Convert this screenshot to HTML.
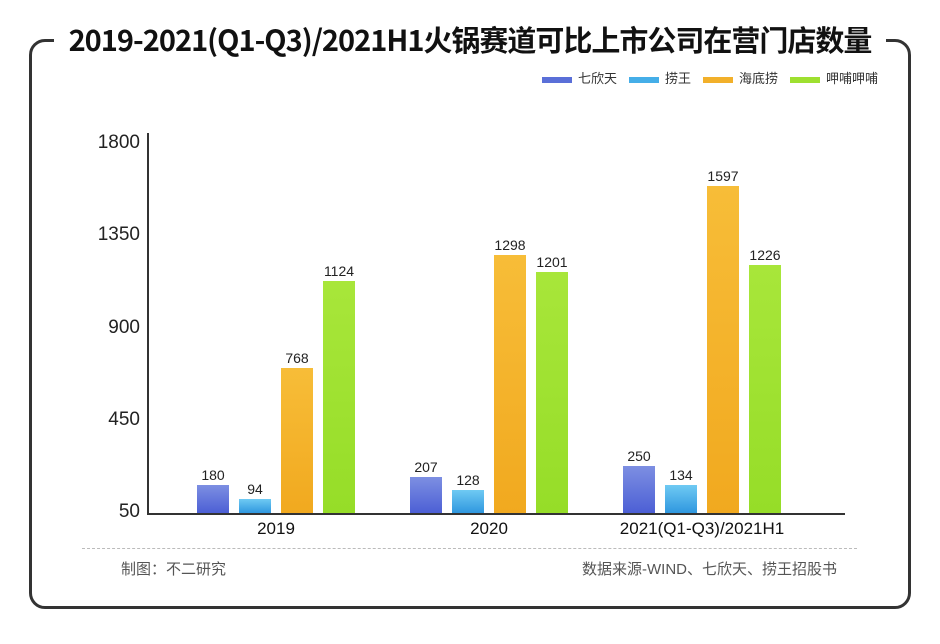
<!DOCTYPE html>
<html><head><meta charset="utf-8"><style>
body{margin:0;width:940px;height:644px;background:#fff;position:relative;overflow:hidden;font-family:"Liberation Sans","Noto Sans CJK SC",sans-serif;}
.abs{position:absolute}
.bar{position:absolute;width:32px}
.b1{background:linear-gradient(#7d8fe2,#4c5fd5)}
.b2{background:linear-gradient(#6fcaf3,#2f97df)}
.b3{background:linear-gradient(#f7bd38,#f1a91f)}
.b4{background:linear-gradient(#a8e63a,#96dd28)}
.val{position:absolute;width:50px;text-align:center;font-size:14px;color:#222}
.yl{position:absolute;right:800px;font-size:19px;color:#222}
.xl{position:absolute;font-size:17px;color:#111;text-align:center;width:300px}
.lg{display:inline-block;width:30px;height:6px;margin:0 6px 0 12px;vertical-align:middle}
</style></head><body>
<div class="abs" style="left:29px;top:39px;width:876px;height:564px;border:3px solid #333;border-radius:16px"></div>
<div class="abs" style="left:54px;top:20px;width:832px;height:40px;background:#fff"></div>
<div class="abs" style="left:54px;top:18px;width:832px;text-align:center;font-size:29px;font-weight:bold;color:#111;font-family:'Noto Sans CJK SC',sans-serif;letter-spacing:-1px">2019-2021(Q1-Q3)/2021H1火锅赛道可比上市公司在营门店数量</div>
<div class="abs" style="right:62px;top:68px;font-size:13px;color:#333">
<span class="lg" style="background:#5a6fd8"></span>七欣天<span class="lg" style="background:#45aee8"></span>捞王<span class="lg" style="background:#f2b02a"></span>海底捞<span class="lg" style="background:#9ee030"></span>呷哺呷哺</div>
<div class="abs" style="left:147px;top:133px;width:2px;height:382px;background:#333"></div>
<div class="abs" style="left:147px;top:513px;width:698px;height:2px;background:#333"></div>
<div class="yl" style="top:132px">1800</div>
<div class="yl" style="top:224px">1350</div>
<div class="yl" style="top:317px">900</div>
<div class="yl" style="top:409px">450</div>
<div class="yl" style="top:501px">50</div>

<div class="bar b1" style="left:197px;top:485px;height:28px"></div><div class="val" style="left:188px;top:467px">180</div>
<div class="bar b2" style="left:239px;top:499px;height:14px"></div><div class="val" style="left:230px;top:481px">94</div>
<div class="bar b3" style="left:281px;top:368px;height:145px"></div><div class="val" style="left:272px;top:350px">768</div>
<div class="bar b4" style="left:323px;top:281px;height:232px"></div><div class="val" style="left:314px;top:263px">1124</div>

<div class="bar b1" style="left:410px;top:477px;height:36px"></div><div class="val" style="left:401px;top:459px">207</div>
<div class="bar b2" style="left:452px;top:490px;height:23px"></div><div class="val" style="left:443px;top:472px">128</div>
<div class="bar b3" style="left:494px;top:255px;height:258px"></div><div class="val" style="left:485px;top:237px">1298</div>
<div class="bar b4" style="left:536px;top:272px;height:241px"></div><div class="val" style="left:527px;top:254px">1201</div>

<div class="bar b1" style="left:623px;top:466px;height:47px"></div><div class="val" style="left:614px;top:448px">250</div>
<div class="bar b2" style="left:665px;top:485px;height:28px"></div><div class="val" style="left:656px;top:467px">134</div>
<div class="bar b3" style="left:707px;top:186px;height:327px"></div><div class="val" style="left:698px;top:168px">1597</div>
<div class="bar b4" style="left:749px;top:265px;height:248px"></div><div class="val" style="left:740px;top:247px">1226</div>

<div class="xl" style="left:126px;top:519px">2019</div>
<div class="xl" style="left:339px;top:519px">2020</div>
<div class="xl" style="left:552px;top:519px">2021(Q1-Q3)/2021H1</div>
<div class="abs" style="left:82px;top:548px;width:775px;border-top:1px dashed #bbb"></div>
<div class="abs" style="left:121px;top:558px;font-size:15px;color:#555">制图：不二研究</div>
<div class="abs" style="right:103px;top:558px;font-size:15px;color:#555">数据来源-WIND、七欣天、捞王招股书</div>
</body></html>
